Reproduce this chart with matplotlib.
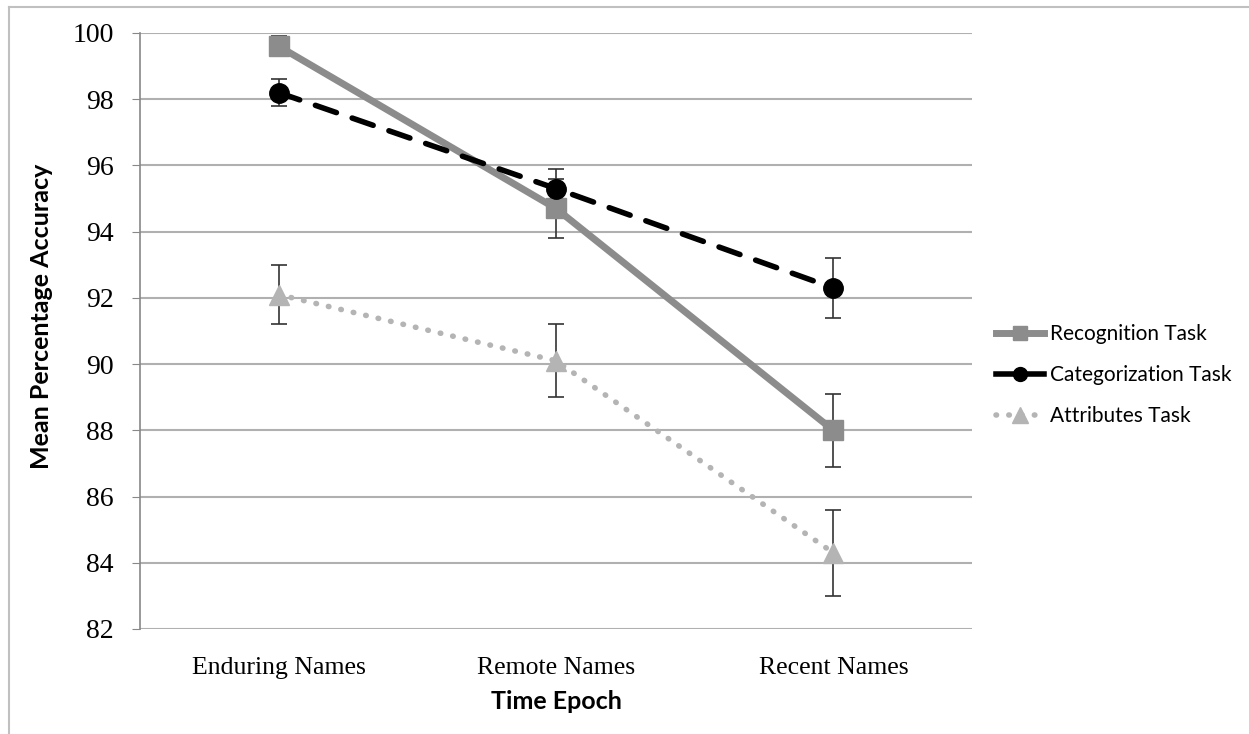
import matplotlib.pyplot as plt
from matplotlib.lines import Line2D

# Chart values
epochs = ["Enduring Names", "Remote Names", "Recent Names"]
recognition = [99.6, 94.7, 88.0]
recognition_err = [0.3, 0.9, 1.1]
categorization = [98.2, 95.3, 92.3]
categorization_err = [0.4, 0.6, 0.9]
attributes = [92.1, 90.1, 84.3]
attributes_err = [0.9, 1.1, 1.3]
y_ticks = [82, 84, 86, 88, 90, 92, 94, 96, 98, 100]

SERIF = "Liberation Serif"
SANS = "Lato"

fig = plt.figure(figsize=(12.49, 7.34), dpi=100)
ax = fig.add_axes([140 / 1249, 1 - 629 / 734, (972 - 140) / 1249, (629 - 33) / 734])

x = list(range(len(epochs)))

# Error bars first, drawn in thin dark gray
for vals, errs in [(recognition, recognition_err),
                   (categorization, categorization_err),
                   (attributes, attributes_err)]:
    ax.errorbar(x, vals, yerr=errs, fmt='none', ecolor='#333333',
                elinewidth=1.2, capsize=6, capthick=1.2, zorder=3)

ax.plot(x, recognition, color='#8c8c8c', lw=5, marker='s', ms=14,
        mfc='#8c8c8c', mec='#8c8c8c', solid_capstyle='butt', zorder=4,
        label='Recognition Task')
ax.plot(x, categorization, color='black', lw=4, ls=(0, (4, 3)), marker='o',
        ms=14, mfc='black', mec='black', dash_capstyle='round', zorder=5,
        label='Categorization Task')
ax.plot(x, attributes, color='#b4b4b4', lw=4, ls=(0, (0.1, 2.2)), marker='^',
        ms=15, mfc='#b4b4b4', mec='#b4b4b4', dash_capstyle='round', zorder=4,
        label='Attributes Task')

ax.set_xlim(-0.5, 2.5)
ax.set_ylim(82, 100)
ax.set_yticks(y_ticks)
ax.set_yticklabels([str(v) for v in y_ticks], fontsize=20, family=SERIF)
ax.set_xticks(x)
ax.set_xticklabels(epochs, fontsize=18.5, family=SERIF)
ax.tick_params(axis='y', length=6, color='#888888', pad=13)
ax.tick_params(axis='x', length=0, pad=20)
ax.yaxis.grid(True, color='#b0b0b0', lw=1.5)
ax.set_axisbelow(True)
for side in ['top', 'right', 'bottom']:
    ax.spines[side].set_visible(False)
ax.spines['left'].set_color('#888888')
ax.spines['left'].set_linewidth(1.2)

ax.set_xlabel('Time Epoch', fontsize=18, fontweight='bold', family=SANS,
              labelpad=8)
ax.set_ylabel('Mean Percentage Accuracy', fontsize=18, fontweight='bold',
              family=SANS)
ax.yaxis.set_label_coords(-0.104, 0.525)

handles = [
    Line2D([], [], color='#8c8c8c', lw=5, marker='s', ms=10, mfc='#8c8c8c',
           mec='#8c8c8c'),
    Line2D([], [], color='black', lw=4, marker='o', ms=10),
    Line2D([], [], color='#b4b4b4', lw=4, ls=(0, (0.1, 2.2)), marker='^',
           ms=11, dash_capstyle='round'),
]
fig.legend(handles, ['Recognition Task', 'Categorization Task', 'Attributes Task'],
           loc='center left', bbox_to_anchor=(977 / 1249, 1 - 375 / 734),
           frameon=False, prop={'family': SANS, 'size': 15},
           handlelength=2.3, handletextpad=0.3, labelspacing=1.0)

# Outer frame lines (top and left only visible in reference)
fig.add_artist(Line2D([9 / 1249, 1], [1 - 7 / 734, 1 - 7 / 734],
                      color='#c0c0c0', lw=1.5))
fig.add_artist(Line2D([9 / 1249, 9 / 1249], [0, 1 - 7 / 734],
                      color='#c0c0c0', lw=1.5))

fig.savefig('out.png', dpi=100)
